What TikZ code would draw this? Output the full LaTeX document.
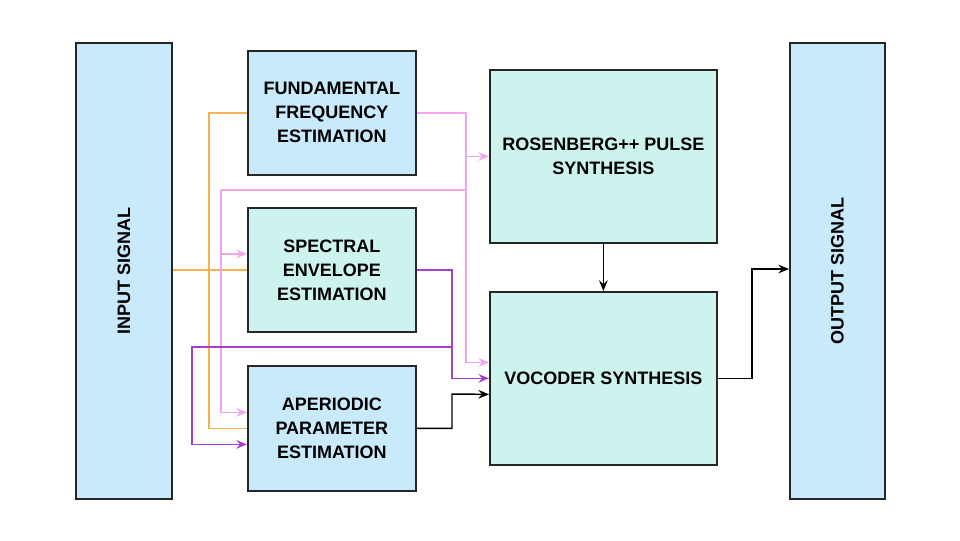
\documentclass[tikz,border=0pt]{standalone}
\usepackage{fontspec}
\setmainfont{Liberation Sans}
\usetikzlibrary{arrows.meta,calc}
\definecolor{lblue}{HTML}{C8EAFB}
\definecolor{mint}{HTML}{CDF3EF}
\definecolor{corange}{HTML}{F4B350}
\definecolor{cpink}{HTML}{F2A5EE}
\definecolor{cpurple}{HTML}{A53FCB}
\tikzset{
  box/.style={draw=black!85, line width=1.3pt, inner sep=0pt, align=center,
    font=\bfseries\fontsize{13.5pt}{18pt}\selectfont, anchor=north west},
  conn/.style={line width=1.1pt},
  arr/.style={conn, -{Stealth[length=8pt,width=6.5pt,inset=2.8pt]}},
}
\begin{document}
\begin{tikzpicture}[x=0.75pt,y=-0.75pt]
\useasboundingbox (0,0) rectangle (960,540);
\node[box, fill=lblue, minimum width=96*0.75pt, minimum height=456*0.75pt] (in) at (75,42) {};
\node[rotate=90, font=\bfseries\fontsize{13.5pt}{18pt}\selectfont] at (in.center) {INPUT SIGNAL};
\node[box, fill=lblue, minimum width=95*0.75pt, minimum height=456*0.75pt] (out) at (789,42) {};
\node[rotate=90, font=\bfseries\fontsize{13.5pt}{18pt}\selectfont] at (out.center) {OUTPUT SIGNAL};
\node[box, fill=lblue, minimum width=168*0.75pt, minimum height=124*0.75pt] (f0) at (247,50) {FUNDAMENTAL\\FREQUENCY\\ESTIMATION};
\node[box, fill=mint, minimum width=168*0.75pt, minimum height=124*0.75pt] (se) at (247,207) {SPECTRAL\\ENVELOPE\\ESTIMATION};
\node[box, fill=lblue, minimum width=168*0.75pt, minimum height=125*0.75pt] (ap) at (247,365) {APERIODIC\\PARAMETER\\ESTIMATION};
\node[box, fill=mint, minimum width=227*0.75pt, minimum height=173*0.75pt] (rb) at (489,69) {ROSENBERG++ PULSE\\SYNTHESIS};
\node[box, fill=mint, minimum width=227*0.75pt, minimum height=173*0.75pt] (vc) at (489,291) {VOCODER SYNTHESIS};
% orange
\draw[conn, corange] (in.east |- se.west) -- (se.west);
\draw[conn, corange] (f0.west) -- ++(-38,0) coordinate (o1) |- (ap.west);
% pink
\coordinate (pk) at ($(rb.west)+(-23,0)$);
\draw[arr, cpink] (f0.east) -| (pk) -- (rb.west);
\draw[arr, cpink] (pk) |- ($(vc.west)+(0,-16)$);
\draw[conn, cpink] (pk |- 0,190) -- (221,190) coordinate (pl);
\draw[arr, cpink] (pl) |- ($(se.west)+(0,-16)$);
\draw[arr, cpink] (pl) |- ($(ap.west)+(0,-16)$);
% purple
\draw[arr, cpurple] (se.east) -| (452,347) |- (vc.west);
\draw[arr, cpurple] (452,347) -- (192,347) |- ($(ap.west)+(0,16)$);
% black
\draw[arr] (ap.east) -| (452,394) -- ($(vc.west)+(0,16)$);
\draw[arr] (rb.south) -- (vc.north);
\draw[arr] (vc.east) -| (752,269) -- (out.west |- 0,269);
\end{tikzpicture}
\end{document}
